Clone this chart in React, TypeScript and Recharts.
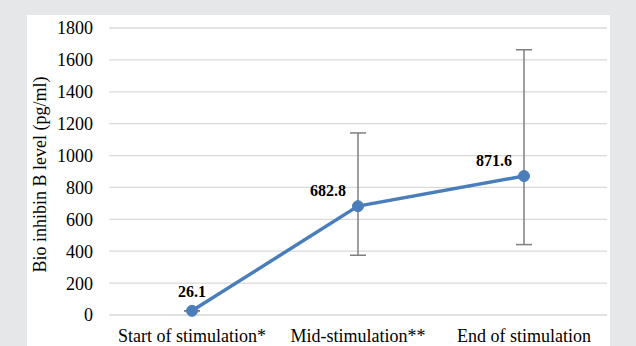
import React from "react";
import {
  LineChart,
  Line,
  XAxis,
  YAxis,
  CartesianGrid,
  ErrorBar,
  LabelList,
} from "recharts";

const categories = ["Start of stimulation*", "Mid-stimulation**", "End of stimulation"];
const values = [26.1, 682.8, 871.6];
const errLow = [0, 308, 430];
const errHigh = [0, 459, 792];
const yTicks = [0, 200, 400, 600, 800, 1000, 1200, 1400, 1600, 1800];

const data = categories.map((c, i) => ({
  name: c,
  value: values[i],
  err: [errLow[i], errHigh[i]],
}));

const FONT = '"Liberation Serif", "Times New Roman", serif';

const renderLabel = (props: any) => {
  const { x, y, value, index } = props;
  if (index === 0) {
    return (
      <text x={x} y={y - 14} textAnchor="middle" fontFamily={FONT} fontSize={16} fontWeight="bold" fill="#000">
        {value}
      </text>
    );
  }
  return (
    <text x={x - 12} y={y - 10} textAnchor="end" fontFamily={FONT} fontSize={16} fontWeight="bold" fill="#000">
      {value}
    </text>
  );
};

const renderYLabel = (props: any) => {
  const vb = props.viewBox || { x: 0, y: 0, width: 0, height: 0 };
  const cx = vb.x + 40;
  const cy = vb.y + vb.height / 2 + 3;
  return (
    <text
      x={cx}
      y={cy}
      transform={`rotate(-90, ${cx}, ${cy})`}
      textAnchor="middle"
      dominantBaseline="central"
      fontFamily={FONT}
      fontSize={18}
      fill="#000"
    >
      Bio inhibin B level (pg/ml)
    </text>
  );
};

export default function App() {
  return (
    <div
      style={{
        position: "absolute",
        left: 0,
        top: 0,
        width: 636,
        height: 346,
        background: "#e6e7e8",
        overflow: "hidden",
      }}
    >
      <div
        style={{
          position: "absolute",
          left: 27,
          top: 15,
          width: 583,
          height: 340,
          background: "#ffffff",
        }}
      />
      <div style={{ position: "absolute", left: 0, top: 0 }}>
        <LineChart
          width={636}
          height={346}
          data={data}
          margin={{ top: 28, right: 29, bottom: 0, left: 0 }}
        >
          <CartesianGrid vertical={false} stroke="#d9d9d9" strokeWidth={1.3} />
          <XAxis
            dataKey="name"
            type="category"
            padding={{ left: 83, right: 83 }}
            axisLine={false}
            tickLine={false}
            tickMargin={8}
            height={31}
            interval={0}
            tick={{ fill: "#000", fontSize: 18, fontFamily: FONT }}
          />
          <YAxis
            domain={[0, 1800]}
            ticks={yTicks}
            width={109}
            axisLine={false}
            tickLine={false}
            tickMargin={10}
            interval={0}
            tick={{ fill: "#000", fontSize: 18, fontFamily: FONT }}
            label={{ content: renderYLabel }}
          />
          <Line
            type="linear"
            dataKey="value"
            stroke="#4a7ebb"
            strokeWidth={3.5}
            dot={{ r: 5.5, fill: "#4a7ebb", stroke: "#4a7ebb", strokeWidth: 1 }}
            isAnimationActive={false}
          >
            <ErrorBar dataKey="err" width={8} stroke="#7f7f7f" strokeWidth={1.5} direction="y" />
            <LabelList dataKey="value" content={renderLabel} />
          </Line>
        </LineChart>
      </div>
    </div>
  );
}
